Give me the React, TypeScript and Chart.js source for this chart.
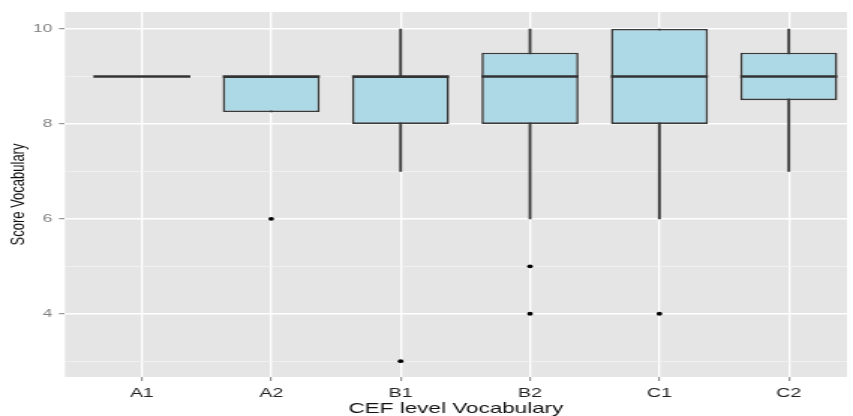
import React, { useEffect, useRef } from 'react';
import { Chart, registerables } from 'chart.js';

Chart.register(...registerables);

// ---- data ----
const categories = ['A1', 'A2', 'B1', 'B2', 'C1', 'C2'];
const whiskerLow = [9, 8.25, 7, 6, 6, 7];
const q1 = [9, 8.25, 8, 8, 8, 8.5];
const medians = [9, 9, 9, 9, 9, 9];
const q3 = [9, 9, 9, 9.5, 10, 9.5];
const whiskerHigh = [9, 9, 10, 10, 10, 10];
const outlierCategories = ['A2', 'B1', 'B2', 'B2', 'C1'];
const outlierValues = [6, 3, 5, 4, 4];
const yTickValues = [3, 4, 5, 6, 7, 8, 9, 10];
const yLabelValues = [4, 6, 8, 10];

// ---- layout / style ----
const OUT_W = 853;
const OUT_H = 416;
const STRETCH = 1.5; // the reference is horizontally stretched
const IN_W = Math.round(OUT_W / STRETCH);
const BOX_FRAC = 0.75;
const FONT = '"Liberation Sans", Arial, Helvetica, sans-serif';

const panelBg = {
  id: 'panelBg',
  beforeDraw(chart: any) {
    const { ctx, chartArea } = chart;
    if (!chartArea) return;
    ctx.save();
    ctx.fillStyle = '#E5E5E5';
    ctx.fillRect(chartArea.left, chartArea.top, chartArea.right - chartArea.left, chartArea.bottom - chartArea.top);
    ctx.restore();
  },
};

const isMajor = (v: number) => yLabelValues.includes(v);

export default function App() {
  const ref = useRef<HTMLCanvasElement>(null);

  useEffect(() => {
    document.body.style.margin = '0';
    const canvas = ref.current;
    if (!canvas) return;

    const chart = new Chart(canvas, {
      type: 'bar',
      data: {
        datasets: [
          {
            type: 'line',
            label: 'outliers',
            data: outlierCategories.map((c, k) => ({ x: categories.indexOf(c) + 1, y: outlierValues[k] })),
            showLine: false,
            pointRadius: 1.9,
            pointBackgroundColor: '#000000',
            pointBorderColor: '#000000',
            pointBorderWidth: 0,
            order: 0,
          } as any,
          {
            type: 'line',
            label: 'median',
            data: medians.map((m, i) => ({ x: i + 1, y: m })),
            showLine: false,
            pointStyle: 'line',
            pointRadius: (c: any) => {
              const s = c.chart.scales.x;
              if (!s) return 0;
              return Math.abs(s.getPixelForValue(1 + BOX_FRAC / 2) - s.getPixelForValue(1));
            },
            pointBorderColor: '#333333',
            pointBorderWidth: 2.4,
            order: 1,
          } as any,
          {
            type: 'bar',
            label: 'box',
            data: q1.map((v, i) => ({ x: i + 1, y: [v, q3[i]] })),
            backgroundColor: '#ADD8E6',
            borderColor: '#3a3a3a',
            borderWidth: 1.6,
            borderSkipped: false,
            barPercentage: BOX_FRAC,
            categoryPercentage: 1,
            grouped: false,
            order: 2,
          } as any,
          {
            type: 'bar',
            label: 'whisker',
            data: whiskerLow.map((v, i) => ({ x: i + 1, y: [v, whiskerHigh[i]] })),
            backgroundColor: '#3a3a3a',
            barThickness: 1.2,
            grouped: false,
            order: 3,
          } as any,
        ],
      },
      options: {
        responsive: false,
        maintainAspectRatio: false,
        devicePixelRatio: 1,
        animation: false,
        layout: { padding: { top: 12, left: 0, right: 0, bottom: 0 } },
        plugins: {
          legend: { display: false },
          tooltip: { enabled: false },
        },
        scales: {
          x: {
            type: 'linear',
            min: 0.406,
            max: 6.45,
            offset: false,
            afterBuildTicks: (s: any) => {
              s.ticks = categories.map((_, i) => ({ value: i + 1 }));
            },
            afterFit: (s: any) => {
              s.height = 39;
            },
            border: { display: false },
            grid: {
              offset: false,
              color: '#FFFFFF',
              lineWidth: 1.3,
              tickColor: '#7F7F7F',
              tickLength: 4,
              tickWidth: 1,
            },
            ticks: {
              autoSkip: false,
              maxRotation: 0,
              callback: (v: any) => categories[Math.round(Number(v)) - 1] ?? '',
              color: '#222222',
              font: { family: FONT, size: 13 },
              padding: 5,
            },
            title: {
              display: true,
              text: 'CEF level Vocabulary',
              color: '#111111',
              font: { family: FONT, size: 15, lineHeight: 1 },
              padding: { top: 0, bottom: 0 },
            },
          } as any,
          y: {
            type: 'linear',
            min: 2.667,
            max: 10.358,
            afterBuildTicks: (s: any) => {
              s.ticks = yTickValues.map((v) => ({ value: v }));
            },
            afterFit: (s: any) => {
              s.width = 65 / STRETCH;
            },
            border: { display: false },
            grid: {
              color: (c: any) => (c.tick && isMajor(c.tick.value) ? '#FFFFFF' : '#F3F3F3'),
              lineWidth: (c: any) => (c.tick && isMajor(c.tick.value) ? 1.4 : 0.8),
              tickColor: (c: any) => (c.tick && isMajor(c.tick.value) ? '#7F7F7F' : 'rgba(0,0,0,0)'),
              tickLength: 4,
              tickWidth: 1,
            },
            ticks: {
              callback: (v: any) => (isMajor(Number(v)) ? String(v) : ''),
              color: '#7F7F7F',
              font: { family: FONT, size: 11.5 },
              padding: 4.5,
            },
            title: {
              display: true,
              text: 'Score Vocabulary',
              color: '#111111',
              font: { family: FONT, size: 13, lineHeight: 1 },
              padding: { top: 6.2, bottom: 0 },
            },
          } as any,
        },
      } as any,
      plugins: [panelBg],
    });

    return () => {
      chart.destroy();
    };
  }, []);

  return (
    <div style={{ width: OUT_W, height: OUT_H, overflow: 'hidden', background: '#FFFFFF' }}>
      <canvas
        ref={ref}
        width={IN_W}
        height={OUT_H}
        style={{ width: `${OUT_W}px`, height: `${OUT_H}px`, display: 'block' }}
      />
    </div>
  );
}
